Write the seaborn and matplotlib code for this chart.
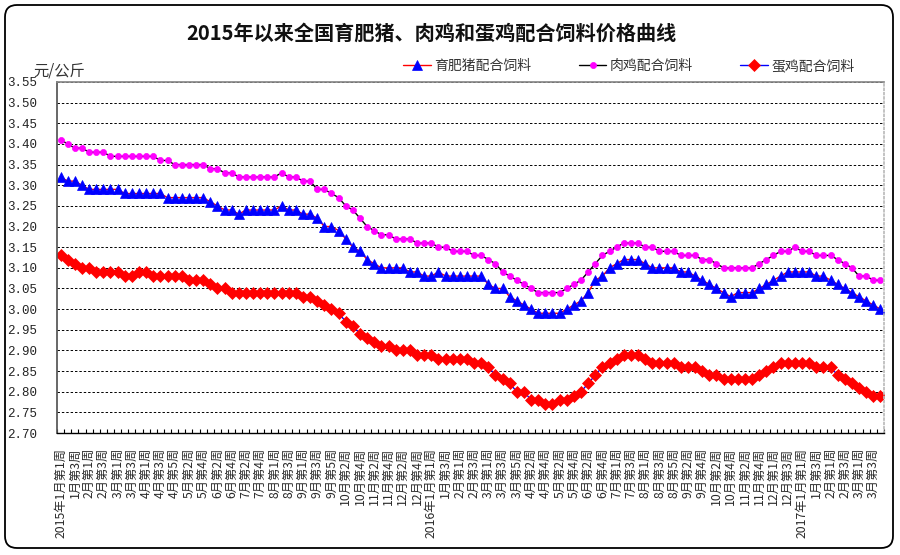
import numpy as np
import pandas as pd
import matplotlib
matplotlib.use("Agg")
import matplotlib.pyplot as plt
import seaborn as sns
from matplotlib.patches import FancyBboxPatch

sns.set_theme(style="white")
plt.rcParams['font.family'] = ['Noto Sans CJK SC', 'DejaVu Sans']
plt.rcParams['axes.unicode_minus'] = False

title = "2015年以来全国育肥猪、肉鸡和蛋鸡配合饲料价格曲线"
y_unit = "元/公斤"
series_names = ["育肥猪配合饲料", "肉鸡配合饲料", "蛋鸡配合饲料"]

years = [2015, 2016, 2017]
weeks_per_month = {
    2015: [4, 4, 4, 5, 4, 4, 5, 4, 5, 4, 4, 5],
    2016: [4, 4, 5, 4, 4, 5, 4, 5, 4, 4, 5, 4],
    2017: [4, 4, 4],
}

pig = [3.32, 3.31, 3.31, 3.30, 3.29, 3.29, 3.29, 3.29, 3.29, 3.28,
       3.28, 3.28, 3.28, 3.28, 3.28, 3.27, 3.27, 3.27, 3.27, 3.27,
       3.27, 3.26, 3.25, 3.24, 3.24, 3.23, 3.24, 3.24, 3.24, 3.24,
       3.24, 3.25, 3.24, 3.24, 3.23, 3.23, 3.22, 3.20, 3.20, 3.19,
       3.17, 3.15, 3.14, 3.12, 3.11, 3.10, 3.10, 3.10, 3.10, 3.09,
       3.09, 3.08, 3.08, 3.09, 3.08, 3.08, 3.08, 3.08, 3.08, 3.08,
       3.06, 3.05, 3.05, 3.03, 3.02, 3.01, 3.00, 2.99, 2.99, 2.99,
       2.99, 3.00, 3.01, 3.02, 3.04, 3.07, 3.08, 3.10, 3.11, 3.12,
       3.12, 3.12, 3.11, 3.10, 3.10, 3.10, 3.10, 3.09, 3.09, 3.08,
       3.07, 3.06, 3.05, 3.04, 3.03, 3.04, 3.04, 3.04, 3.05, 3.06,
       3.07, 3.08, 3.09, 3.09, 3.09, 3.09, 3.08, 3.08, 3.07, 3.06,
       3.05, 3.04, 3.03, 3.02, 3.01, 3.00]

broiler = [3.41, 3.40, 3.39, 3.39, 3.38, 3.38, 3.38, 3.37, 3.37, 3.37,
           3.37, 3.37, 3.37, 3.37, 3.36, 3.36, 3.35, 3.35, 3.35, 3.35,
           3.35, 3.34, 3.34, 3.33, 3.33, 3.32, 3.32, 3.32, 3.32, 3.32,
           3.32, 3.33, 3.32, 3.32, 3.31, 3.31, 3.29, 3.29, 3.28, 3.27,
           3.25, 3.24, 3.22, 3.20, 3.19, 3.18, 3.18, 3.17, 3.17, 3.17,
           3.16, 3.16, 3.16, 3.15, 3.15, 3.14, 3.14, 3.14, 3.13, 3.13,
           3.12, 3.11, 3.09, 3.08, 3.07, 3.06, 3.05, 3.04, 3.04, 3.04,
           3.04, 3.05, 3.06, 3.07, 3.09, 3.11, 3.13, 3.14, 3.15, 3.16,
           3.16, 3.16, 3.15, 3.15, 3.14, 3.14, 3.14, 3.13, 3.13, 3.13,
           3.12, 3.12, 3.11, 3.10, 3.10, 3.10, 3.10, 3.10, 3.11, 3.12,
           3.13, 3.14, 3.14, 3.15, 3.14, 3.14, 3.13, 3.13, 3.13, 3.12,
           3.11, 3.10, 3.08, 3.08, 3.07, 3.07]

layer = [3.13, 3.12, 3.11, 3.10, 3.10, 3.09, 3.09, 3.09, 3.09, 3.08,
         3.08, 3.09, 3.09, 3.08, 3.08, 3.08, 3.08, 3.08, 3.07, 3.07,
         3.07, 3.06, 3.05, 3.05, 3.04, 3.04, 3.04, 3.04, 3.04, 3.04,
         3.04, 3.04, 3.04, 3.04, 3.03, 3.03, 3.02, 3.01, 3.00, 2.99,
         2.97, 2.96, 2.94, 2.93, 2.92, 2.91, 2.91, 2.90, 2.90, 2.90,
         2.89, 2.89, 2.89, 2.88, 2.88, 2.88, 2.88, 2.88, 2.87, 2.87,
         2.86, 2.84, 2.83, 2.82, 2.80, 2.80, 2.78, 2.78, 2.77, 2.77,
         2.78, 2.78, 2.79, 2.80, 2.82, 2.84, 2.86, 2.87, 2.88, 2.89,
         2.89, 2.89, 2.88, 2.87, 2.87, 2.87, 2.87, 2.86, 2.86, 2.86,
         2.85, 2.84, 2.84, 2.83, 2.83, 2.83, 2.83, 2.83, 2.84, 2.85,
         2.86, 2.87, 2.87, 2.87, 2.87, 2.87, 2.86, 2.86, 2.86, 2.84,
         2.83, 2.82, 2.81, 2.80, 2.79, 2.79]

y_ticks = [2.70, 2.75, 2.80, 2.85, 2.90, 2.95, 3.00, 3.05, 3.10, 3.15,
           3.20, 3.25, 3.30, 3.35, 3.40, 3.45, 3.50, 3.55]

# week category labels
week_labels = []
for yr in years:
    for m, n in enumerate(weeks_per_month[yr], start=1):
        for w in range(1, n + 1):
            lab = f"{m}月第{w}周"
            if m == 1 and w == 1:
                lab = f"{yr}年" + lab
            week_labels.append(lab)

df = pd.DataFrame({"idx": np.arange(len(week_labels)), "week": week_labels,
                   "pig": pig, "broiler": broiler, "layer": layer})

W, H = 900, 555
fig = plt.figure(figsize=(W / 100, H / 100), dpi=100)
fig.patch.set_facecolor("white")

# rounded outer frame
bg = fig.add_axes([0, 0, 1, 1])
bg.set_xlim(0, W)
bg.set_ylim(H, 0)
bg.axis("off")
bg.add_patch(FancyBboxPatch((5, 5), 888, 543, boxstyle="round,pad=0,rounding_size=12",
                            fc="white", ec="black", lw=1.3))

L, R, T, B = 57, 884, 82, 433
ax = fig.add_axes([L / W, 1 - B / H, (R - L) / W, (B - T) / H])
ax.set_facecolor("white")

sns.lineplot(data=df, x="idx", y="pig", ax=ax, color="red", lw=1.0,
             marker="^", markersize=7.5, markerfacecolor="blue",
             markeredgecolor="blue", markeredgewidth=0.5, label=series_names[0])
sns.lineplot(data=df, x="idx", y="broiler", ax=ax, color="black", lw=1.0,
             marker="o", markersize=4.4, markerfacecolor="#ff00ff",
             markeredgecolor="#ff00ff", markeredgewidth=0.5, label=series_names[1])
sns.lineplot(data=df, x="idx", y="layer", ax=ax, color="blue", lw=1.0,
             marker="D", markersize=6.2, markerfacecolor="red",
             markeredgecolor="red", markeredgewidth=0.5, label=series_names[2])

ax.set_xlim(-0.5, len(week_labels) - 0.5)
ax.set_ylim(2.70, 3.55)
ax.set_xlabel("")
ax.set_ylabel("")

ax.set_yticks(y_ticks)
ax.set_yticklabels([f"{v:.2f}" for v in y_ticks], family=["Liberation Mono", "DejaVu Sans Mono"],
                   fontsize=9, color="#222222")
ax.tick_params(axis="y", length=0, pad=14)

ax.set_xticks(df["idx"].values[::2])
ax.set_xticklabels(df["week"].values[::2], rotation=90, fontsize=8.8, color="#2a2a2a",
                   va="top", ha="center")
ax.set_xticks(np.arange(-0.5, len(week_labels), 1), minor=True)
ax.tick_params(axis="x", which="major", length=0, pad=10.5)
ax.tick_params(axis="x", which="minor", direction="in", length=3, width=0.8, color="black",
               bottom=True)

ax.grid(False)
ax.yaxis.grid(True, color="black", linestyle=(0, (2.5, 2)), lw=0.7)

ax.spines["bottom"].set_color("black")
ax.spines["bottom"].set_linewidth(1.0)
ax.spines["left"].set_linestyle((0, (1, 1)))
ax.spines["left"].set_color("#555555")
ax.spines["right"].set_linestyle((0, (1, 1.5)))
ax.spines["right"].set_color("#bbbbbb")
ax.spines["top"].set_linestyle((0, (1, 1)))
ax.spines["top"].set_color("#888888")

handles, labels = ax.get_legend_handles_labels()
if ax.get_legend() is not None:
    ax.get_legend().remove()
fig.legend(handles, labels, loc="center", bbox_to_anchor=(629 / W, 1 - 66 / H), ncol=3,
           frameon=False, fontsize=10, handlelength=2.0, handletextpad=0.25,
           columnspacing=3.4, numpoints=1, labelcolor="#333333")

fig.text(431 / W, 1 - 33 / H, title, ha="center", va="center", fontsize=14.5,
         fontweight="bold", color="#111111")
fig.text(33 / W, 1 - 71 / H, y_unit, ha="left", va="center", fontsize=11, color="#333333")

fig.savefig("out.png", dpi=100, facecolor="white")
